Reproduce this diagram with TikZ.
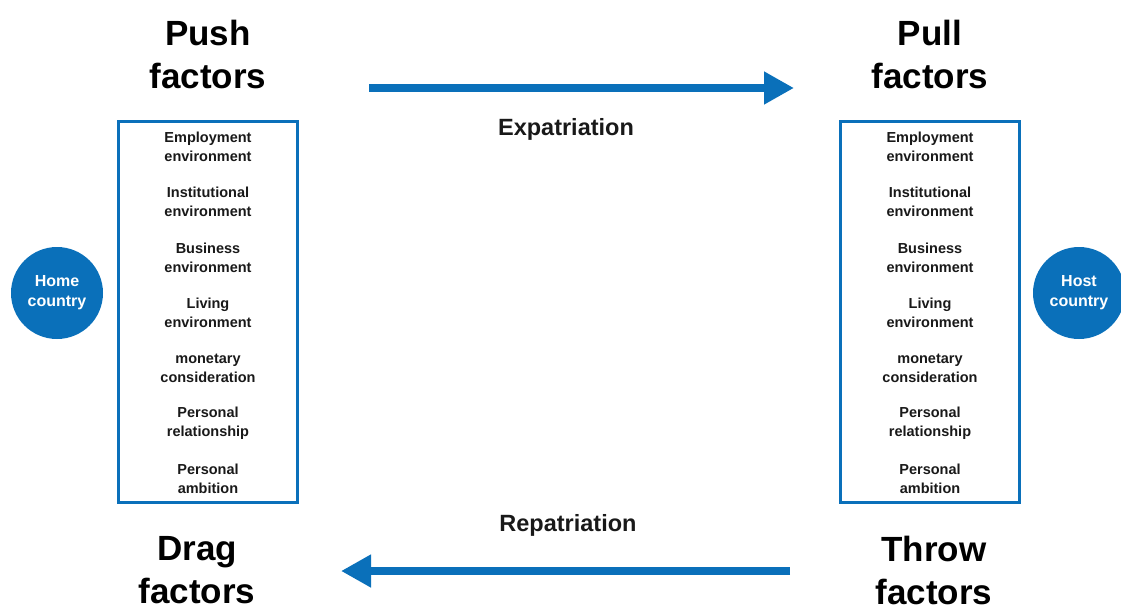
\documentclass[tikz,border=0pt]{standalone}
\usepackage{fontspec}
\setmainfont{Liberation Sans}
\usetikzlibrary{arrows.meta}
\definecolor{flowblue}{RGB}{10,112,186}
\begin{document}
\begin{tikzpicture}[x=1pt,y=-1pt,
  title/.style={font=\fontsize{35}{43}\selectfont\bfseries, align=center, text=black, inner sep=0pt},
  item/.style={font=\fontsize{14.5}{19}\selectfont\bfseries, align=center, text=black!90, inner sep=0pt},
  flowlabel/.style={font=\fontsize{23.5}{28}\selectfont\bfseries, text=black!90, inner sep=0pt},
  factorbox/.style={draw=flowblue, line width=3pt, minimum width=179pt, minimum height=381pt, inner sep=0pt},
  country/.style={circle, fill=flowblue, minimum size=92pt, inner sep=0pt,
    font=\fontsize{16}{20}\selectfont\bfseries, text=white, align=center},
  flow/.style={draw=flowblue, line width=8pt, -{Triangle[length=30pt,width=31pt]}}
]
\useasboundingbox (0,0) rectangle (1121,608);

% titles
\node[title] (push) at (208,54) {Push\\factors};
\node[title] (pull) at (930,54) {Pull\\factors};
\node[title] (drag) at (197,570) {Drag\\factors};
\node[title] (throw) at (934,570) {Throw\\factors};

% factor lists
\node[factorbox] (leftbox) at (207.5,311.5) {};
\node[factorbox] (rightbox) at (929.5,311.5) {};

\foreach \side/\cx in {L/208, R/930} {
  \node[item] (\side1) at (\cx,147) {Employment\\environment};
  \node[item] (\side2) at (\cx,202) {Institutional\\environment};
  \node[item] (\side3) at (\cx,257.5) {Business\\environment};
  \node[item] (\side4) at (\cx,313) {Living\\environment};
  \node[item] (\side5) at (\cx,368) {monetary\\consideration};
  \node[item] (\side6) at (\cx,423.5) {Personal\\relationship};
  \node[item] (\side7) at (\cx,479) {Personal\\ambition};
}

% countries
\node[country] (home) at (57,293) {Home\\country};
\node[country] (host) at (1079,293) {Host\\country};

% flows
\coordinate (expfrom) at (369,88);
\coordinate (expto) at (794,88);
\coordinate (repfrom) at (790,571);
\coordinate (repto) at (341,571);
\draw[flow] (expfrom) -- (expto);
\draw[flow] (repfrom) -- (repto);
\node[flowlabel] (exp) at (566,129) {Expatriation};
\node[flowlabel] (rep) at (568,525) {Repatriation};
\end{tikzpicture}
\end{document}
